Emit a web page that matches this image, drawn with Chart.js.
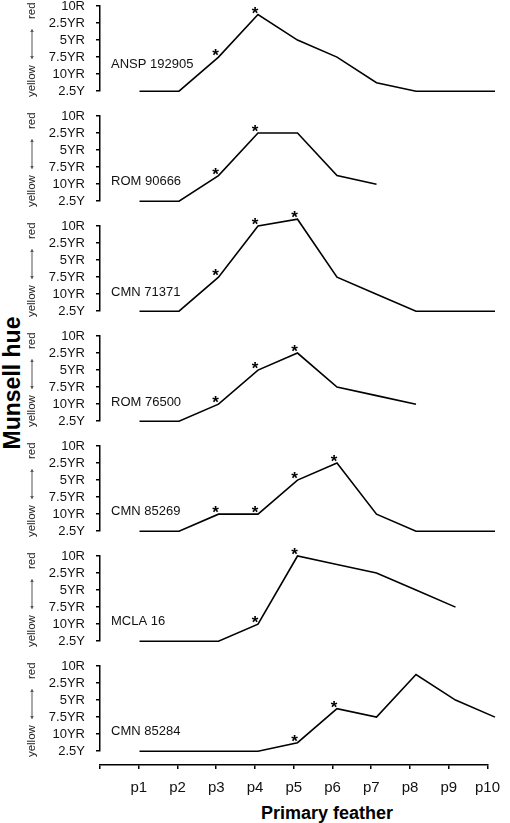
<!DOCTYPE html>
<html>
<head>
<meta charset="utf-8">
<script src="https://cdn.jsdelivr.net/npm/chart.js@4"></script>
<style>
body { margin: 0; background: #fff; }
#wrap { position: relative; width: 510px; height: 823px; font-family: 'Liberation Sans', Arial, sans-serif; }
#wrap canvas { position: absolute; left: 0; }
.ttl { position: absolute; font-weight: bold; white-space: nowrap; color: #000; transform: translate(-50%, -50%); }
#ytitle { left: 12px; top: 383px; font-size: 23px; transform: translate(-50%, -50%) rotate(-90deg); }
#xtitle { left: 327px; top: 813px; font-size: 18px; }
</style>
</head>
<body>
<div id="wrap">
  <div class="ttl" id="ytitle">Munsell hue</div>
  <div class="ttl" id="xtitle">Primary feather</div>
</div>
<script>
// x categories and the hue scale (bottom -> top)
const feathers = ['p1', 'p2', 'p3', 'p4', 'p5', 'p6', 'p7', 'p8', 'p9', 'p10'];
const hueLabels = ['2.5Y', '10YR', '7.5YR', '5YR', '2.5YR', '10R'];

const specimens = ['ANSP 192905', 'ROM 90666', 'CMN 71371', 'ROM 76500', 'CMN 85269', 'MCLA 16', 'CMN 85284'];

// hue step per feather, 0 = 2.5Y ... 5 = 10R
const ansp192905 = [0, 0, 2, 4.5, 3, 2, 0.5, 0, 0, 0];
const rom90666   = [0, 0, 1.5, 4, 4, 1.5, 1, null, null, null];
const cmn71371   = [0, 0, 2, 5, 5.4, 2, 1, 0, 0, 0];
const rom76500   = [0, 0, 1, 3, 4, 2, 1.5, 1, null, null];
const cmn85269   = [0, 0, 1, 1, 3, 4, 1, 0, 0, 0];
const mcla16     = [0, 0, 0, 1, 5, 4.5, 4, 3, 2, null];
const cmn85284   = [0, 0, 0, 0, 0.5, 2.5, 2, 4.5, 3, 2];

// feathers marked with an asterisk
const starsAnsp192905 = [3, 4];
const starsRom90666   = [3, 4];
const starsCmn71371   = [3, 4, 5];
const starsRom76500   = [3, 4, 5];
const starsCmn85269   = [3, 4, 5, 6];
const starsMcla16     = [4, 5];
const starsCmn85284   = [5, 6];

const series = [ansp192905, rom90666, cmn71371, rom76500, cmn85269, mcla16, cmn85284];
const stars = [starsAnsp192905, starsRom90666, starsCmn71371, starsRom76500, starsCmn85269, starsMcla16, starsCmn85284];

// where the specimen name sits (in hue units) - just for layout
const nameAt = [1.6, 1.15, 1.1, 1.1, 1.15, 1.15, 1.15];

const FONT = 'Liberation Sans';
const wrap = document.getElementById('wrap');

function addCanvas(top, height) {
    const c = document.createElement('canvas');
    c.width = 510;
    c.height = height;
    c.style.top = top + 'px';
    wrap.appendChild(c);
    return c;
}

// asterisks, specimen name and the yellow <-> red note
const panelDecor = {
    id: 'panelDecor',
    afterDatasetsDraw(chart, args, opts) {
        const { ctx, chartArea, scales } = chart;
        const meta = chart.getDatasetMeta(0);
        ctx.save();
        ctx.fillStyle = '#000';
        ctx.font = 'bold 17px "' + FONT + '"';
        ctx.textAlign = 'center';
        ctx.textBaseline = 'alphabetic';
        opts.stars.forEach(p => {
            const pt = meta.data[p - 1];
            ctx.fillText('*', pt.x - 3, pt.y + 4);
        });

        ctx.font = '13px "' + FONT + '"';
        ctx.fillStyle = '#111';
        ctx.textAlign = 'left';
        ctx.textBaseline = 'middle';
        ctx.fillText(opts.name, 111, scales.y.getPixelForValue(opts.nameAt));

        const cy = (chartArea.top + chartArea.bottom) / 2;
        ctx.translate(32, cy);
        ctx.rotate(-Math.PI / 2);
        ctx.font = '11.5px "' + FONT + '"';
        ctx.fillStyle = '#222';
        ctx.textAlign = 'left';
        ctx.fillText('yellow', -48.5, 0);
        ctx.fillText('red', 29.5, 0);
        ctx.strokeStyle = '#555';
        ctx.fillStyle = '#555';
        ctx.lineWidth = 1;
        ctx.beginPath();
        ctx.moveTo(-10, 0);
        ctx.lineTo(19, 0);
        ctx.stroke();
        [[-10.5, 1], [19.5, -1]].forEach(([x, d]) => {
            ctx.beginPath();
            ctx.moveTo(x, 0);
            ctx.lineTo(x + 3 * d, -1.8);
            ctx.lineTo(x + 3 * d, 1.8);
            ctx.closePath();
            ctx.fill();
        });
        ctx.restore();
    }
};

series.forEach((values, k) => {
    const canvas = addCanvas(110 * k - 24, 134);
    new Chart(canvas, {
        type: 'line',
        data: {
            datasets: [{
                data: values.map((v, i) => ({ x: i + 1, y: v })),
                borderColor: '#000',
                borderWidth: 1.6,
                pointRadius: 0,
                tension: 0,
                clip: false
            }]
        },
        options: {
            responsive: false,
            animation: false,
            layout: { padding: { left: 0, right: 15, top: 30, bottom: 13 } },
            plugins: {
                legend: { display: false },
                tooltip: { enabled: false },
                panelDecor: { stars: stars[k], name: specimens[k], nameAt: nameAt[k] }
            },
            scales: {
                x: { type: 'linear', min: 0, max: 10, display: false },
                y: {
                    min: 0,
                    max: 5,
                    ticks: {
                        stepSize: 1,
                        autoSkip: false,
                        padding: 11,
                        color: '#111',
                        font: { family: FONT, size: 13 },
                        callback: v => hueLabels[Math.round(v)]
                    },
                    grid: { drawOnChartArea: false, tickLength: 4, color: '#000', lineWidth: 1.5 },
                    border: { color: '#000', width: 1.5 },
                    afterFit: s => { s.width = 100; }
                }
            }
        },
        plugins: [panelDecor]
    });
});

// shared x axis under the panels
const xCanvas = addCanvas(740, 83);
new Chart(xCanvas, {
    type: 'line',
    data: { datasets: [] },
    options: {
        responsive: false,
        animation: false,
        layout: { padding: { left: 100, right: 15, top: 24, bottom: 0 } },
        plugins: { legend: { display: false }, tooltip: { enabled: false } },
        scales: {
            y: { display: false, min: 0, max: 1 },
            x: {
                type: 'linear',
                min: 0,
                max: 10,
                ticks: {
                    stepSize: 1,
                    padding: 10,
                    autoSkip: false,
                    maxRotation: 0,
                    color: '#111',
                    font: { family: FONT, size: 15 },
                    callback: v => v >= 1 ? feathers[v - 1] : ''
                },
                grid: { drawOnChartArea: false, tickLength: 4, color: '#000', lineWidth: 1.5 },
                border: { color: '#000', width: 1.5 },
                afterFit: s => { s.height = 58; }
            }
        }
    }
});
</script>
</body>
</html>
